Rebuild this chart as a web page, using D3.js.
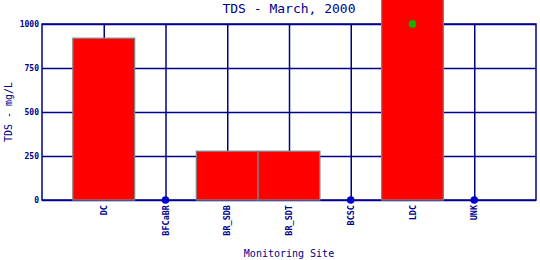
<!DOCTYPE html>
<html>
<head>
<meta charset="utf-8">
<script src="https://cdn.jsdelivr.net/npm/d3@7"></script>
<style>
  body { margin: 0; background: #fff; }
  svg { display: block; }
  text { font-family: "DejaVu Sans Mono", "Liberation Mono", monospace; fill: #00008b; }
</style>
</head>
<body>
<div id="chart"></div>
<script>
const sites = ['DC', 'BFCaBR', 'BR_SDB', 'BR_SDT', 'BCSC', 'LDC', 'UNK']
const tdsValues = [919, 0, 277, 277, 0, 1250, 0]
const standardSites = ['LDC']
const standardValues = [1000]
const yTicks = [0, 250, 500, 750, 1000]

const W = 540, H = 260
const margin = { top: 24, right: 4, bottom: 60, left: 42 }
const w = W - margin.left - margin.right
const h = H - margin.top - margin.bottom
const navy = '#00008b'

const svg = d3.select('#chart').append('svg').attr('width', W).attr('height', H)
const g = svg.append('g').attr('transform', `translate(${margin.left},${margin.top})`)

// one empty slot on each side of the sites
const x = d3.scaleLinear().domain([0, sites.length + 1]).range([0, w])
const slot = x(1) - x(0)
const y = d3.scaleLinear().domain([0, 1000]).range([h, 0])

// horizontal grid + y ticks
const yAxis = g.append('g').call(
  d3.axisLeft(y).tickValues(yTicks).tickSize(-w).tickPadding(3).tickFormat(d3.format('d'))
)
yAxis.select('.domain').remove()
yAxis.selectAll('line').attr('stroke', navy).attr('stroke-width', 1.5)
yAxis.selectAll('text').attr('font-size', 8).attr('font-weight', 'bold').style('fill', navy)

// vertical grid at each site
const xAxis = g.append('g').attr('transform', `translate(0,${h})`).call(
  d3.axisBottom(x).tickValues(d3.range(1, sites.length + 1)).tickSize(-h).tickFormat(() => '')
)
xAxis.select('.domain').remove()
xAxis.selectAll('line').attr('stroke', navy).attr('stroke-width', 1.5)

// frame
g.append('rect').attr('width', w).attr('height', h)
  .attr('fill', 'none').attr('stroke', navy).attr('stroke-width', 1.5)

// bars
g.selectAll('.bar')
  .data(sites.map((s, i) => ({ s, i, v: tdsValues[i] })).filter(d => d.v > 0))
  .join('rect')
  .attr('class', 'bar')
  .attr('x', d => x(d.i + 1) - slot / 2)
  .attr('width', slot)
  .attr('y', d => y(d.v))
  .attr('height', d => y(0) - y(d.v))
  .attr('fill', '#ff0000')
  .attr('stroke', '#808080')
  .attr('stroke-width', 1.3)

// zero markers
g.selectAll('.zero')
  .data(sites.map((s, i) => ({ s, i, v: tdsValues[i] })).filter(d => d.v === 0))
  .join('circle')
  .attr('class', 'zero')
  .attr('cx', d => x(d.i + 1))
  .attr('cy', y(0))
  .attr('r', 3.8)
  .attr('fill', '#0000cc')

// standard markers
g.selectAll('.std')
  .data(standardSites.map((s, i) => ({ i: sites.indexOf(s), v: standardValues[i] })))
  .join('circle')
  .attr('class', 'std')
  .attr('cx', d => x(d.i + 1))
  .attr('cy', d => y(d.v))
  .attr('r', 3.8)
  .attr('fill', '#00bb00')

// site labels
g.selectAll('.site')
  .data(sites)
  .join('text')
  .attr('class', 'site')
  .attr('transform', (d, i) => `translate(${x(i + 1) + 3},${h + 5}) rotate(-90)`)
  .attr('text-anchor', 'end')
  .attr('font-size', 8.5)
  .attr('font-weight', 'bold')
  .text(d => d)

// titles
svg.append('text')
  .attr('x', margin.left + w / 2).attr('y', 13)
  .attr('text-anchor', 'middle').attr('font-size', 13)
  .text('TDS - March, 2000')

svg.append('text')
  .attr('x', margin.left + w / 2).attr('y', 257)
  .attr('text-anchor', 'middle').attr('font-size', 10)
  .text('Monitoring Site')

svg.append('text')
  .attr('transform', `translate(12,${margin.top + h / 2}) rotate(-90)`)
  .attr('text-anchor', 'middle').attr('font-size', 10)
  .text('TDS - mg/L')
</script>
</body>
</html>
